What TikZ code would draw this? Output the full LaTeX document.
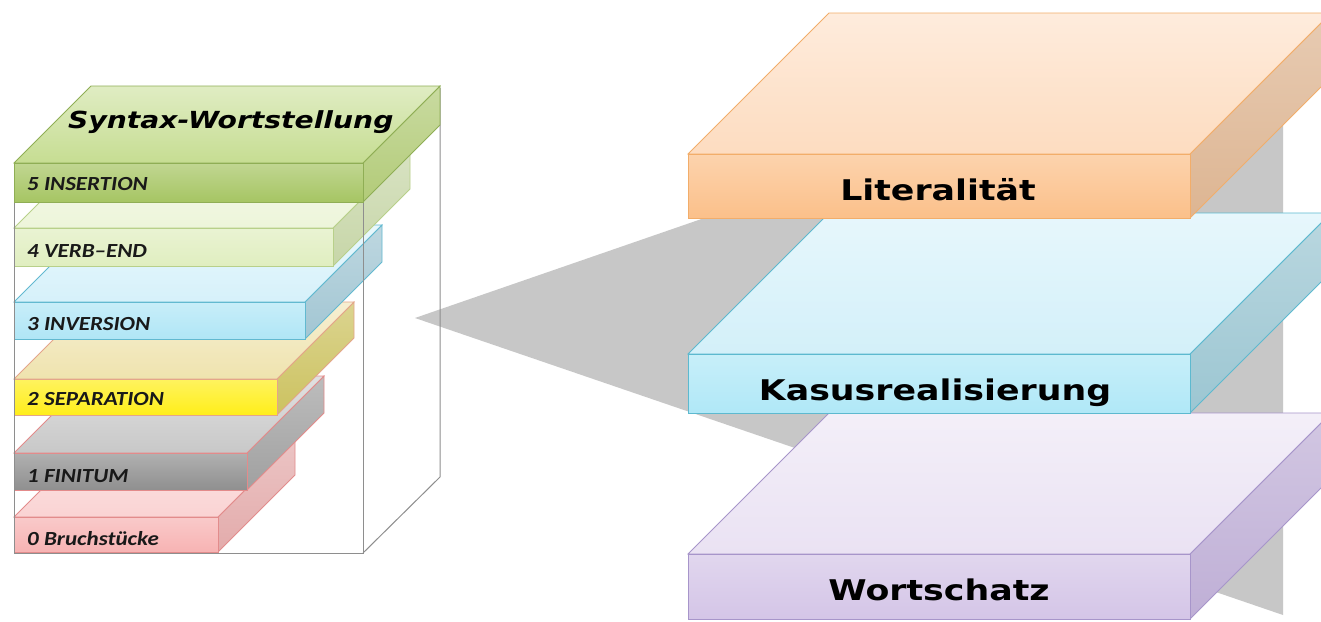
\documentclass[tikz,border=0pt]{standalone}
\usepackage{fontspec}
\setmainfont{Carlito}
\newfontfamily\dejavu{DejaVu Sans}
\usepackage{graphicx}

\definecolor{lidtop}{HTML}{C6DD92}
\definecolor{lidfront}{HTML}{A6C563}
\definecolor{lidside}{HTML}{B2CB78}
\definecolor{lidedge}{HTML}{8FAE55}
\definecolor{vtop}{HTML}{EDF5DA}
\definecolor{vfront}{HTML}{E0EEC0}
\definecolor{vside}{HTML}{C7D6A8}
\definecolor{vedge}{HTML}{B8D08A}
\definecolor{itop}{HTML}{D6F1FA}
\definecolor{ifront}{HTML}{B0E6F6}
\definecolor{iside}{HTML}{A2C6D3}
\definecolor{iedge}{HTML}{62B9D0}
\definecolor{stop}{HTML}{EFE3AE}
\definecolor{sfront}{HTML}{FFEE1A}
\definecolor{sside}{HTML}{CCC260}
\definecolor{sedge}{HTML}{E4A58A}
\definecolor{ftop}{HTML}{C8C8C8}
\definecolor{ffront}{HTML}{8F8F8F}
\definecolor{fside}{HTML}{A0A0A0}
\definecolor{fedge}{HTML}{E38B8B}
\definecolor{btop}{HTML}{FAD3D3}
\definecolor{bfront}{HTML}{F7B3B3}
\definecolor{bside}{HTML}{E3ABAB}
\definecolor{bedge}{HTML}{E28C8C}
\definecolor{ltop}{HTML}{FDDCC0}
\definecolor{lfront}{HTML}{FBC08A}
\definecolor{lside}{HTML}{DDB592}
\definecolor{ledge}{HTML}{F2AD6A}
\definecolor{ktop}{HTML}{D3F0F9}
\definecolor{kfront}{HTML}{B0E8F7}
\definecolor{kside}{HTML}{9CC6D2}
\definecolor{kedge}{HTML}{5DB9CF}
\definecolor{wtop}{HTML}{EAE2F3}
\definecolor{wfront}{HTML}{D4C5E7}
\definecolor{wside}{HTML}{BFAFD6}
\definecolor{wedge}{HTML}{A795CA}
\definecolor{shadowgray}{HTML}{C7C7C7}
\definecolor{boxline}{HTML}{8E8E8E}

\tikzset{
  leftlbl/.style={anchor=base west, inner sep=0pt, font=\fontsize{20}{24}\selectfont\bfseries\itshape, text=black!90},
  rightlbl/.style={anchor=base, inner sep=0pt, font=\dejavu\fontsize{28.5}{34}\selectfont\bfseries, text=black},
  titlelbl/.style={anchor=base west, inner sep=0pt, font=\dejavu\fontsize{23.5}{28}\selectfont\bfseries\itshape, text=black},
  boxedge/.style={draw=boxline, line width=1pt},
}
\newcommand{\lstretch}[1]{\scalebox{1.15}[1]{#1}}
\newcommand{\rstretch}[1]{\scalebox{1.22}[1]{#1}}
% #1 L, #2 R, #3 T, #4 B, #5 depth, #6 colour prefix
\newcommand{\drawslab}[6]{%
  \path[draw=#6edge, line width=0.8pt, top color=#6side!70!white, bottom color=#6side]
    (#2,#3) -- ({#2+#5},{#3-#5}) -- ({#2+#5},{#4-#5}) -- (#2,#4) -- cycle;
  \path[draw=#6edge, line width=0.8pt, top color=#6top!55!white, bottom color=#6top]
    (#1,#3) -- (#2,#3) -- ({#2+#5},{#3-#5}) -- ({#1+#5},{#3-#5}) -- cycle;
  \path[draw=#6edge, line width=0.8pt, top color=#6front!70!white, bottom color=#6front]
    (#1,#3) rectangle (#2,#4);
}

\begin{document}
\begin{tikzpicture}[x=1pt, y=-1pt]
\clip (0,0) rectangle (1321,621);
\fill[white] (0,0) rectangle (1321,621);

% shadow plane
\fill[shadowgray] (415,318) -- (1283,18) -- (1283,615) -- cycle;

% right slabs
\drawslab{688}{1190}{554}{619}{141}{w}
\drawslab{688}{1190}{354}{413}{141}{k}
\drawslab{688}{1190}{154}{218}{141}{l}

% left slabs, bottom first
\drawslab{14}{218}{517}{552}{77}{b}
\drawslab{14}{247}{453}{490}{77}{f}
\drawslab{14}{277}{379}{415}{77}{s}
\drawslab{14}{305}{302}{339}{77}{i}
\drawslab{14}{333}{228}{266}{77}{v}

% wireframe box
\draw[boxedge] (14,163) rectangle (363,553);
\draw[boxedge] (440,88) -- (440,477) -- (363,553);

% lid
\drawslab{14}{363}{163}{202}{77}{lid}

% labels
\node[titlelbl] (title) at (68,128) {\scalebox{1.2}[1]{Syntax-Wortstellung}};
\node[leftlbl] (l5) at (27,190) {\lstretch{5 INSERTION}};
\node[leftlbl] (l4) at (27,257) {\lstretch{4 VERB–END}};
\node[leftlbl] (l3) at (27,330) {\lstretch{3 INVERSION}};
\node[leftlbl] (l2) at (27,405) {\lstretch{2 SEPARATION}};
\node[leftlbl] (l1) at (27,482) {\lstretch{1 FINITUM}};
\node[leftlbl] (l0) at (27,545) {\lstretch{0 Bruchstücke}};

\node[rightlbl] (lit) at (938,200) {\rstretch{Literalität}};
\node[rightlbl] (kas) at (935,400) {\rstretch{Kasusrealisierung}};
\node[rightlbl] (wor) at (939,600) {\rstretch{Wortschatz}};
\end{tikzpicture}
\end{document}
